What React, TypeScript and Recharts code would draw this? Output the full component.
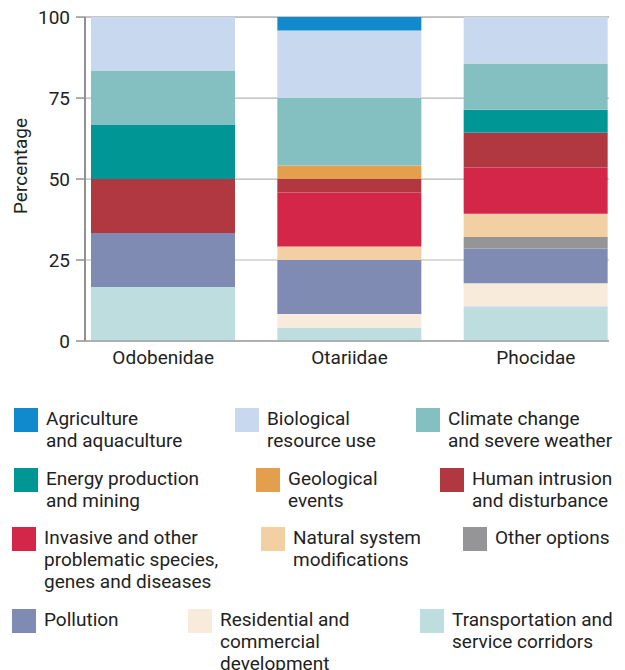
import { Bar, BarChart, CartesianGrid, XAxis, YAxis } from "recharts";

const CATEGORIES = ["Odobenidae", "Otariidae", "Phocidae"];

// share of threats per family, bottom of the stack first
const TRANSPORT = [16.67, 4.17, 10.71];
const RESIDENTIAL = [0, 4.17, 7.14];
const POLLUTION = [16.67, 16.67, 10.71];
const OTHER = [0, 0, 3.57];
const NATURAL = [0, 4.17, 7.14];
const INVASIVE = [0, 16.67, 14.29];
const HUMAN = [16.67, 4.17, 10.71];
const GEOLOGICAL = [0, 4.17, 0];
const ENERGY = [16.67, 0, 7.14];
const CLIMATE = [16.67, 20.83, 14.29];
const BIOLOGICAL = [16.67, 20.83, 14.29];
const AGRICULTURE = [0, 4.17, 0];

const Y_TICKS = [0, 25, 50, 75, 100];

const SERIES = [
  { key: "agriculture", label: "Agriculture\nand aquaculture", values: AGRICULTURE, color: "#118acd" },
  { key: "biological", label: "Biological\nresource use", values: BIOLOGICAL, color: "#c8d8ee" },
  { key: "climate", label: "Climate change\nand severe weather", values: CLIMATE, color: "#84c0c2" },
  { key: "energy", label: "Energy production\nand mining", values: ENERGY, color: "#009696" },
  { key: "geological", label: "Geological\nevents", values: GEOLOGICAL, color: "#e39f4b" },
  { key: "human", label: "Human intrusion\nand disturbance", values: HUMAN, color: "#b13841" },
  { key: "invasive", label: "Invasive and other\nproblematic species,\ngenes and diseases", values: INVASIVE, color: "#d42649" },
  { key: "natural", label: "Natural system\nmodifications", values: NATURAL, color: "#f2d0a4" },
  { key: "other", label: "Other options", values: OTHER, color: "#959598" },
  { key: "pollution", label: "Pollution", values: POLLUTION, color: "#7f8bb3" },
  { key: "residential", label: "Residential and\ncommercial\ndevelopment", values: RESIDENTIAL, color: "#f9ebdc" },
  { key: "transport", label: "Transportation and\nservice corridors", values: TRANSPORT, color: "#bddddf" },
];

// where each legend entry sits (swatch top-left), same order as SERIES
const LEGEND_POS: [number, number][] = [
  [14, 408], [235, 408], [416, 408],
  [14, 468], [256, 468], [440, 468],
  [12, 527], [261, 527], [463, 527],
  [12, 609], [188, 609], [420, 609],
];

const FONT = "Roboto, 'Noto Sans', sans-serif";
const FS = 19;

const data = CATEGORIES.map((name, i) => {
  const row: Record<string, string | number> = { name };
  SERIES.forEach((s) => {
    row[s.key] = s.values[i];
  });
  return row;
});

const stackOrder = [...SERIES].reverse();

export default function App() {
  return (
    <div
      style={{
        position: "absolute",
        top: 0,
        left: 0,
        width: 625,
        height: 670,
        background: "#fff",
        fontFamily: FONT,
        overflow: "hidden",
      }}
    >
      <BarChart
        width={625}
        height={380}
        data={data}
        margin={{ top: 17, right: 16, bottom: 9, left: 0 }}
        barSize={144}
      >
        <CartesianGrid vertical={false} stroke="#b5b5b5" strokeWidth={1.2} />
        <XAxis
          dataKey="name"
          height={30}
          padding={{ left: -15, right: -20 }}
          tickLine={false}
          axisLine={{ stroke: "#a0a0a0", strokeWidth: 1.5 }}
          tick={{ fill: "#222", fontSize: FS, fontFamily: FONT }}
          tickMargin={4}
        />
        <YAxis
          width={85}
          domain={[0, 100]}
          ticks={Y_TICKS}
          interval={0}
          tickSize={9}
          tickMargin={6}
          tickLine={{ stroke: "#909090", strokeWidth: 1.5 }}
          axisLine={{ stroke: "#909090", strokeWidth: 2 }}
          tick={{ fill: "#222", fontSize: FS, fontFamily: FONT }}
          label={{
            content: () => (
              <text
                x={20}
                y={166}
                transform="rotate(-90, 20, 166)"
                textAnchor="middle"
                dominantBaseline="central"
                fill="#222"
                fontSize={FS}
                fontFamily={FONT}
              >
                Percentage
              </text>
            ),
          }}
        />
        {stackOrder.map((s) => (
          <Bar
            key={s.key}
            dataKey={s.key}
            name={s.label}
            stackId="a"
            fill={s.color}
            isAnimationActive={false}
          />
        ))}
      </BarChart>

      {SERIES.map((s, i) => {
        const [x, y] = LEGEND_POS[i];
        return (
          <div key={s.key}>
            <div
              style={{
                position: "absolute",
                left: x,
                top: y,
                width: 24,
                height: 24,
                background: s.color,
              }}
            />
            <div
              style={{
                position: "absolute",
                left: x + 32,
                top: y,
                fontSize: FS,
                lineHeight: "22px",
                color: "#222",
                whiteSpace: "pre-line",
              }}
            >
              {s.label}
            </div>
          </div>
        );
      })}
    </div>
  );
}
